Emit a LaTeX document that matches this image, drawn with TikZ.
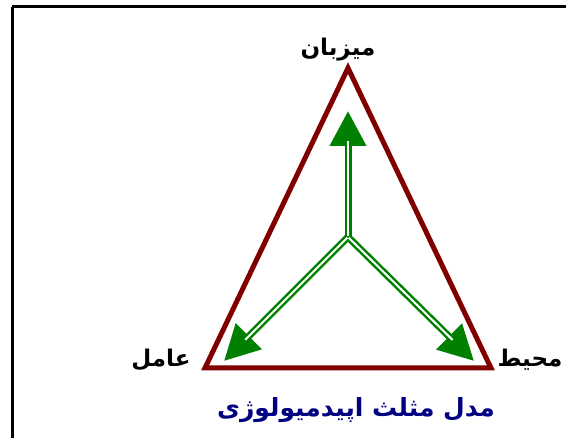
\documentclass[tikz,border=0pt]{standalone}
\usepackage{fontspec}
\usetikzlibrary{arrows.meta}
\newfontfamily\fafont[Script=Arabic]{DejaVu Sans}
\TeXXeTstate=1
\definecolor{tri}{RGB}{128,0,0}
\definecolor{arr}{RGB}{0,128,0}
\definecolor{ttl}{RGB}{0,0,128}
\begin{document}
\begin{tikzpicture}[x=1pt,y=-1pt,
  lbl/.style={font=\fafont\bfseries\fontsize{23}{26}\selectfont, inner sep=0pt},
  ttlstyle/.style={font=\fafont\bfseries\fontsize{25}{28}\selectfont, text=ttl, inner sep=0pt},
  tribox/.style={draw=tri, line width=5pt, line join=miter},
  arrout/.style={draw=arr, line width=7pt, -{Triangle[length=35pt,width=35pt]}},
  arrin/.style={draw=white, line width=2pt}]
\useasboundingbox (0,0) rectangle (566,438);
\draw[line width=3pt] (12,7) -- (570,7);
\draw[line width=3pt] (12,7) -- (12,445);
\coordinate (top) at (348,68);
\coordinate (bl) at (205,368);
\coordinate (br) at (491,368);
\coordinate (c) at (348,237);
\coordinate (tu) at (348,111);
\coordinate (tl) at (224,361);
\coordinate (tr) at (474,361);
\draw[tribox] (top) -- (br) -- (bl) -- cycle;
\draw[arrout] (c) -- (tu);
\draw[arrout] (c) -- (tl);
\draw[arrout] (c) -- (tr);
\draw[arrin, shorten >=30pt, shorten <=1pt] (c) -- (tu);
\draw[arrin, shorten >=30pt, shorten <=1pt] (c) -- (tl);
\draw[arrin, shorten >=30pt, shorten <=1pt] (c) -- (tr);
\node[lbl] (host) at (338,50) {\beginR میزبان\endR};
\node[lbl] (agent) at (161,360) {\beginR عامل\endR};
\node[lbl] (env) at (530,360) {\beginR محیط\endR};
\node[ttlstyle] (title) at (356,410) {\beginR مدل مثلث اپیدمیولوژی\endR};
\end{tikzpicture}
\end{document}
